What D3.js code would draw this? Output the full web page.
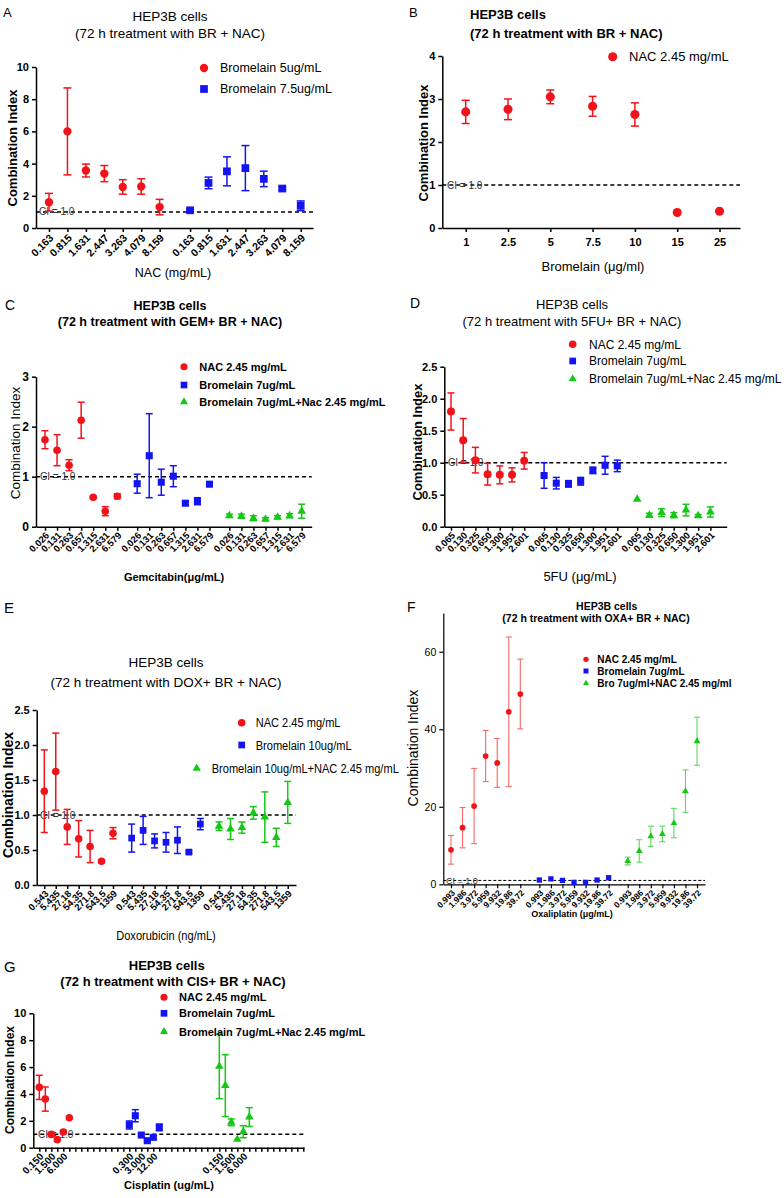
<!DOCTYPE html>
<html><head><meta charset="utf-8">
<script src="https://cdn.jsdelivr.net/npm/d3@7"></script>
<style>
body{margin:0;background:#fff;}
svg{display:block;}
</style></head><body>
<svg id="chart" width="784" height="1198"></svg>
<script>
// ---------------- DATA ----------------
// Panel A
const aLabels = ["0.163","0.815","1.631","2.447","3.263","4.079","8.159"];
const aSeriesNames = ["Bromelain 5ug/mL","Bromelain 7.5ug/mL"];
const aBromelain5 = [1.6, 6.0, 3.57, 3.38, 2.55, 2.58, 1.3];
const aBromelain5Err = [0.55, 2.7, 0.4, 0.5, 0.45, 0.48, 0.48];
const aBromelain75 = [1.1, 2.8, 3.52, 3.72, 3.05, 2.45, 1.38];
const aBromelain75Err = [0.08, 0.36, 0.9, 1.4, 0.48, 0.1, 0.3];
const aYTicks = [0,2,4,6,8,10];
// Panel B
const bLabels = ["1","2.5","5","7.5","10","15","25"];
const bSeriesNames = ["NAC 2.45 mg/mL"];
const bNac = [2.7, 2.76, 3.05, 2.83, 2.64, 0.36, 0.39];
const bNacErr = [0.27, 0.24, 0.16, 0.23, 0.27, 0, 0];
const bYTicks = [0,1,2,3,4];
// Panel C
const cLabels = ["0.026","0.131","0.263","0.657","1.315","2.631","6.579"];
const cSeriesNames = ["NAC 2.45 mg/mL","Bromelain 7ug/mL","Bromelain 7ug/mL+Nac 2.45 mg/mL"];
const cNac = [1.74, 1.53, 1.23, 2.13, 0.59, 0.31, 0.61];
const cNacErr = [0.18, 0.31, 0.11, 0.36, 0.02, 0.09, 0.05];
const cBro = [0.86, 1.42, 0.89, 1.01, 0.47, 0.51, 0.85];
const cBroErr = [0.19, 0.84, 0.26, 0.21, 0.04, 0.07, 0.02];
const cBroNac = [0.22, 0.21, 0.17, 0.15, 0.19, 0.22, 0.31];
const cBroNacErr = [0.03, 0.04, 0.05, 0.03, 0.03, 0.04, 0.14];
const cYTicks = [0,1,2,3];
// Panel D
const dLabels = ["0.065","0.130","0.325","0.650","1.300","1.951","2.601"];
const dSeriesNames = ["NAC 2.45 mg/mL","Bromelain 7ug/mL","Bromelain 7ug/mL+Nac 2.45 mg/mL"];
const dNac = [1.80, 1.35, 1.04, 0.82, 0.81, 0.81, 1.03];
const dNacErr = [0.29, 0.34, 0.2, 0.17, 0.14, 0.11, 0.13];
const dBro = [0.80, 0.68, 0.67, 0.71, 0.88, 0.96, 0.95];
const dBroErr = [0.2, 0.09, 0.05, 0.06, 0.05, 0.14, 0.09];
const dBroNac = [0.43, 0.18, 0.22, 0.18, 0.26, 0.17, 0.23];
const dBroNacErr = [0, 0.03, 0.06, 0.04, 0.09, 0.02, 0.08];
const dYTicks = [0,0.5,1,1.5,2,2.5];
// Panel E
const eLabels = ["0.543","5.435","27.18","54.35","271.8","543.5","1359"];
const eSeriesNames = ["NAC 2.45 mg/mL","Bromelain 10ug/mL","Bromelain 10ug/mL+NAC 2.45 mg/mL"];
const eNac = [1.34, 1.62, 0.83, 0.66, 0.55, 0.34, 0.74];
const eNacErr = [0.59, 0.55, 0.25, 0.26, 0.23, 0.02, 0.08];
const eBro = [0.67, 0.78, 0.63, 0.61, 0.64, 0.47, 0.87];
const eBroErr = [0.2, 0.2, 0.1, 0.14, 0.19, 0.02, 0.08];
const eBroNac = [0.84, 0.80, 0.82, 1.03, 0.97, 0.68, 1.18];
const eBroNacErr = [0.06, 0.15, 0.08, 0.09, 0.36, 0.13, 0.3];
const eYTicks = [0,0.5,1,1.5,2,2.5];
// Panel F
const fLabels = ["0.993","1.986","3.972","5.959","9.932","19.86","39.72"];
const fSeriesNames = ["NAC 2.45 mg/mL","Bromelain 7ug/mL","Bro 7ug/ml+NAC 2.45 mg/ml"];
const fNac = [8.9, 14.6, 20.2, 33.1, 31.3, 44.5, 49.1];
const fNacErr = [3.7, 5.2, 9.7, 6.6, 6.3, 19.3, 9.0];
const fBro = [1.1, 1.4, 1.0, 0.5, 0.5, 1.1, 1.7];
const fBroErr = [0, 0, 0, 0, 0, 0, 0];
const fBroNac = [6.0, 8.6, 12.4, 13.0, 15.8, 24.0, 36.9];
const fBroNacErr = [1.0, 2.9, 2.6, 2.0, 3.8, 5.5, 6.2];
const fYTicks = [0,20,40,60];
// Panel G
const gNacLabels = ["0.150","","1.500","","6.000",""];
const gBroLabels = ["0.300","","3.000","","12.00",""];
const gComboLabels = ["0.150","","1.500","","6.000",""];
const gSeriesNames = ["NAC 2.45 mg/mL","Bromelain 7ug/mL","Bromelain 7ug/mL+Nac 2.45 mg/mL"];
const gNac = [4.49, 3.62, 0.99, 0.6, 1.17, 2.23];
const gNacErr = [0.9, 0.9, 0.15, 0, 0.12, 0];
const gBro = [1.69, 2.38, 0.94, 0.52, 0.77, 1.51];
const gBroErr = [0.3, 0.45, 0.1, 0.08, 0.1, 0.25];
const gBroNac = [6.05, 4.62, 1.89, 0.62, 1.19, 2.28];
const gBroNacErr = [2.4, 2.3, 0.25, 0, 0.45, 0.7];
const gYTicks = [0,2,4,6,8,10];

// ---------------- DRAWING ----------------
const FONT = '"Liberation Sans", Arial, sans-serif';
const RED = "#f0141a", BLUE = "#1414f0", GREEN = "#14c814";
const SYM = {circle: d3.symbolCircle, square: d3.symbolSquare, triangle: d3.symbolTriangle};
const svg = d3.select("#chart");

function txt(g, s) {
  const t = g.append("text")
    .attr("font-family", FONT)
    .attr("font-size", s.size)
    .attr("font-weight", s.weight || "normal")
    .attr("text-anchor", s.anchor || "middle")
    .attr("fill", s.fill || "#000")
    .text(s.t);
  if (s.rotate) {
    t.attr("transform", `translate(${s.x},${s.y}) rotate(-90)`).attr("dy", "0.35em");
  } else if (s.narrow) {
    t.attr("transform", `translate(${s.x},${s.y}) scale(0.82,1)`);
    if (s.dy) t.attr("dy", s.dy);
  } else {
    t.attr("x", s.x).attr("y", s.y);
    if (s.dy) t.attr("dy", s.dy);
  }
  return t;
}

function drawPanel(p) {
  const g = svg.append("g");
  txt(g, {t: p.letter[0], x: p.letter[1], y: p.letter[2], size: p.letter[3], anchor: "start"});
  p.titles.forEach(tt => txt(g, tt));

  const sMin = (p.x0 - p.firstX) / p.step, sMax = (p.x1 - p.firstX) / p.step;
  const x = d3.scaleLinear().domain([sMin, sMax]).range([p.x0, p.x1]);
  const y = d3.scaleLinear().domain(p.yDomain).range([p.yBottom, p.yTop]);

  const labelMap = new Map();
  const ticks = [];
  p.labelGroups.forEach((labs, gi) => labs.forEach((l, i) => {
    const s = gi * p.groupOffset + i;
    ticks.push(s); labelMap.set(s, l);
  }));
  const tickVals = p.allTicks || ticks;

  // CI dashed line
  g.append("line").attr("x1", p.x0).attr("x2", p.x1)
    .attr("y1", y(1)).attr("y2", y(1))
    .attr("stroke", "#000").attr("stroke-width", p.dashW || 1.5)
    .attr("stroke-dasharray", p.dash || "4,3");
  txt(g, {t: "CI = 1.0", x: p.ciX, y: y(1), size: p.ciSize || 10, anchor: "start", dy: "0.35em", fill: "#333"});

  // axes
  const xAxis = d3.axisBottom(x).tickValues(tickVals)
    .tickFormat(s => labelMap.has(s) ? labelMap.get(s) : "")
    .tickSize(4).tickSizeOuter(0).tickPadding(p.xPad || 3);
  const gx = g.append("g").attr("transform", `translate(0,${p.yBottom})`).call(xAxis)
    .attr("font-family", null).attr("font-size", null);
  gx.select(".domain").attr("stroke-width", p.axisW);
  gx.selectAll(".tick line").attr("stroke-width", p.axisW);
  const xt = gx.selectAll(".tick text")
    .attr("font-family", FONT)
    .attr("font-size", p.xTickSize).attr("font-weight", p.xTickWeight || "bold").attr("fill", "#000");
  if (p.rotate) {
    xt.attr("x", 0).attr("y", 0).attr("dy", "0.35em")
      .attr("transform", `translate(${p.rotDx},${p.rotDy}) rotate(-45)`)
      .attr("text-anchor", "end");
  }

  const yAxis = d3.axisLeft(y).tickValues(p.yTicks).tickFormat(p.yFmt)
    .tickSize(4).tickSizeOuter(0).tickPadding(3);
  const gy = g.append("g").attr("transform", `translate(${p.x0},0)`).call(yAxis)
    .attr("font-family", null).attr("font-size", null);
  gy.select(".domain").attr("stroke-width", p.axisW);
  gy.selectAll(".tick line").attr("stroke-width", p.axisW);
  gy.selectAll(".tick text").attr("font-family", FONT)
    .attr("font-size", p.yTickSize).attr("font-weight", p.yTickWeight || "bold").attr("fill", "#000");

  txt(g, p.xTitle);
  txt(g, Object.assign({rotate: true}, p.yTitle));

  // series
  p.series.forEach(s => {
    const pts = s.values.map((v, i) => ({slot: s.group * p.groupOffset + i, v: v, e: s.errs[i]}));
    const sg = g.append("g");
    const ec = s.errColor || s.color;
    pts.filter(d => d.e > 0).forEach(d => {
      const cx = x(d.slot);
      sg.append("line").attr("x1", cx).attr("x2", cx)
        .attr("y1", y(d.v - d.e)).attr("y2", y(d.v + d.e))
        .attr("stroke", ec).attr("stroke-width", p.errW);
      [d.v - d.e, d.v + d.e].forEach(vv => {
        sg.append("line").attr("x1", cx - p.cap / 2).attr("x2", cx + p.cap / 2)
          .attr("y1", y(vv)).attr("y2", y(vv))
          .attr("stroke", ec).attr("stroke-width", p.errW);
      });
    });
    sg.selectAll("path.pt").data(pts).join("path").attr("class", "pt")
      .attr("transform", d => `translate(${x(d.slot)},${y(d.v)})`)
      .attr("d", d3.symbol().type(SYM[s.shape]).size(s.size))
      .attr("fill", s.color);
  });

  // legend
  p.legend.forEach(it => {
    g.append("path").attr("transform", `translate(${it.sx},${it.sy})`)
      .attr("d", d3.symbol().type(SYM[it.shape]).size(it.size)).attr("fill", it.color);
    txt(g, {t: it.label, x: it.tx, y: it.sy, size: p.legendSize, weight: p.legendWeight || "normal",
      anchor: "start", dy: "0.35em", narrow: p.legendNarrow});
  });
}

// Panel A
drawPanel({
  letter: ["A", 3, 17, 13],
  titles: [
    {t: "HEP3B cells", x: 170, y: 21, size: 13.5},
    {t: "(72 h treatment with BR + NAC)", x: 170, y: 38, size: 13.5}],
  x0: 36, x1: 313, firstX: 49, step: 18.44, groupOffset: 7.65,
  yDomain: [0, 10], yBottom: 228, yTop: 67, yTicks: aYTicks, yFmt: d3.format("d"),
  yTickSize: 11, labelGroups: [aLabels, aLabels],
  xTickSize: 10.5, rotate: true, rotDx: 2, rotDy: 8,
  xTitle: {t: "NAC (mg/mL)", x: 173, y: 277, size: 12.5},
  yTitle: {t: "Combination Index", x: 12, y: 148, size: 13, weight: "bold"},
  legendSize: 12.5,
  legend: [
    {shape: "circle", color: RED, size: 55, label: aSeriesNames[0], sx: 204, sy: 68, tx: 220},
    {shape: "square", color: BLUE, size: 60, label: aSeriesNames[1], sx: 204, sy: 89, tx: 220}],
  ciX: 39, cap: 8, errW: 1.5, axisW: 1.5,
  series: [
    {group: 0, values: aBromelain5, errs: aBromelain5Err, color: RED, shape: "circle", size: 55},
    {group: 1, values: aBromelain75, errs: aBromelain75Err, color: BLUE, shape: "square", size: 60}]
});

// Panel B
drawPanel({
  letter: ["B", 409, 17, 13],
  titles: [
    {t: "HEP3B cells", x: 470, y: 18.5, size: 13, weight: "bold", anchor: "start"},
    {t: "(72 h treatment with BR + NAC)", x: 470, y: 37.5, size: 13, weight: "bold", anchor: "start"}],
  x0: 442.3, x1: 740, firstX: 465.7, step: 42.3, groupOffset: 7,
  yDomain: [0, 4], yBottom: 228, yTop: 56, yTicks: bYTicks, yFmt: d3.format("d"),
  yTickSize: 11, labelGroups: [bLabels],
  xTickSize: 11, rotate: false, xPad: 6,
  xTitle: {t: "Bromelain (μg/ml)", x: 593, y: 271, size: 13},
  yTitle: {t: "Combination Index", x: 423, y: 143, size: 13, weight: "bold"},
  legendSize: 13,
  legend: [
    {shape: "circle", color: RED, size: 65, label: bSeriesNames[0], sx: 612.7, sy: 56.7, tx: 629}],
  ciX: 447, cap: 8, errW: 1.5, axisW: 1.5,
  series: [
    {group: 0, values: bNac, errs: bNacErr, color: RED, shape: "circle", size: 65}]
});

// Panel C
drawPanel({
  letter: ["C", 5, 310, 14],
  titles: [
    {t: "HEP3B cells", x: 170, y: 309.5, size: 12.5, weight: "bold"},
    {t: "(72 h treatment with GEM+ BR + NAC)", x: 170, y: 325.5, size: 12.5, weight: "bold"}],
  x0: 36, x1: 311.7, firstX: 45, step: 12.05, groupOffset: 7.65,
  yDomain: [0, 3], yBottom: 526.7, yTop: 376.7, yTicks: cYTicks, yFmt: d3.format("d"),
  yTickSize: 12, labelGroups: [cLabels, cLabels, cLabels],
  xTickSize: 9.5, rotate: true, rotDx: 2, rotDy: 7,
  xTitle: {t: "Gemcitabin(μg/mL)", x: 174, y: 581, size: 11, weight: "bold"},
  yTitle: {t: "Combination Index", x: 15, y: 443, size: 13.5},
  legendSize: 11, legendWeight: "bold",
  legend: [
    {shape: "circle", color: RED, size: 40, label: cSeriesNames[0], sx: 184, sy: 366.7, tx: 199.3},
    {shape: "square", color: BLUE, size: 45, label: cSeriesNames[1], sx: 184, sy: 385, tx: 199.3},
    {shape: "triangle", color: GREEN, size: 28, label: cSeriesNames[2], sx: 184, sy: 402, tx: 199.3}],
  ciX: 40, cap: 7, errW: 1.5, axisW: 1.5,
  series: [
    {group: 0, values: cNac, errs: cNacErr, color: RED, shape: "circle", size: 45},
    {group: 1, values: cBro, errs: cBroErr, color: BLUE, shape: "square", size: 50},
    {group: 2, values: cBroNac, errs: cBroNacErr, color: GREEN, shape: "triangle", size: 32}]
});

// Panel D
drawPanel({
  letter: ["D", 410, 308, 14],
  titles: [
    {t: "HEP3B cells", x: 572, y: 308.5, size: 13},
    {t: "(72 h treatment with 5FU+ BR + NAC)", x: 572, y: 326, size: 13}],
  x0: 444.3, x1: 726.7, firstX: 451, step: 12.2, groupOffset: 7.63,
  yDomain: [0, 2.5], yBottom: 526.7, yTop: 366.7, yTicks: dYTicks, yFmt: d3.format(".1f"),
  yTickSize: 11, labelGroups: [dLabels, dLabels, dLabels],
  xTickSize: 9.5, rotate: true, rotDx: 2, rotDy: 7,
  xTitle: {t: "5FU (μg/mL)", x: 580, y: 581, size: 13},
  yTitle: {t: "Combination Index", x: 417, y: 442, size: 13, weight: "bold"},
  legendSize: 12,
  legend: [
    {shape: "circle", color: RED, size: 45, label: dSeriesNames[0], sx: 572.7, sy: 344.3, tx: 589},
    {shape: "square", color: BLUE, size: 45, label: dSeriesNames[1], sx: 572.7, sy: 361, tx: 589},
    {shape: "triangle", color: GREEN, size: 28, label: dSeriesNames[2], sx: 572.7, sy: 379, tx: 589}],
  ciX: 448, cap: 7, errW: 1.5, axisW: 1.5,
  series: [
    {group: 0, values: dNac, errs: dNacErr, color: RED, shape: "circle", size: 50},
    {group: 1, values: dBro, errs: dBroErr, color: BLUE, shape: "square", size: 50},
    {group: 2, values: dBroNac, errs: dBroNacErr, color: GREEN, shape: "triangle", size: 32}]
});

// Panel E
drawPanel({
  letter: ["E", 4, 613, 15],
  titles: [
    {t: "HEP3B cells", x: 166, y: 667, size: 13.5, narrow: false},
    {t: "(72 h treatment with DOX+ BR + NAC)", x: 166, y: 687, size: 13.5}],
  x0: 36.7, x1: 296, firstX: 44.3, step: 11.45, groupOffset: 7.63,
  yDomain: [0, 2.5], yBottom: 885, yTop: 710, yTicks: eYTicks, yFmt: d3.format(".1f"),
  yTickSize: 11, labelGroups: [eLabels, eLabels, eLabels],
  xTickSize: 9.5, rotate: true, rotDx: 2, rotDy: 7,
  xTitle: {t: "Doxorubicin (ng/mL)", x: 166, y: 940, size: 13.5, narrow: true, anchor: "middle"},
  yTitle: {t: "Combination Index", x: 8, y: 795, size: 14, weight: "bold"},
  legendSize: 13.5, legendNarrow: true,
  legend: [
    {shape: "circle", color: RED, size: 45, label: eSeriesNames[0], sx: 241.7, sy: 722.7, tx: 255.7},
    {shape: "square", color: BLUE, size: 45, label: eSeriesNames[1], sx: 241.7, sy: 745, tx: 255.7},
    {shape: "triangle", color: GREEN, size: 30, label: eSeriesNames[2], sx: 196.7, sy: 768.3, tx: 211.7}],
  ciX: 40, cap: 7, errW: 1.5, axisW: 1.5,
  series: [
    {group: 0, values: eNac, errs: eNacErr, color: RED, shape: "circle", size: 45},
    {group: 1, values: eBro, errs: eBroErr, color: BLUE, shape: "square", size: 45},
    {group: 2, values: eBroNac, errs: eBroNacErr, color: GREEN, shape: "triangle", size: 32}]
});

// Panel F
drawPanel({
  letter: ["F", 407, 612, 14],
  titles: [
    {t: "HEP3B cells", x: 606.7, y: 609.5, size: 10.5, weight: "bold"},
    {t: "(72 h treatment with OXA+ BR + NAC)", x: 596, y: 622, size: 10.5, weight: "bold"}],
  x0: 443.3, x1: 705, firstX: 451, step: 11.55, groupOffset: 7.65,
  yDomain: [0, 70], yBottom: 884.3, yTop: 613, yTicks: fYTicks, yFmt: d3.format("d"),
  yTickSize: 10.5, yTickWeight: "normal", labelGroups: [fLabels, fLabels, fLabels],
  xTickSize: 8.5, rotate: true, rotDx: 2, rotDy: 7,
  xTitle: {t: "Oxaliplatin (μg/mL)", x: 572, y: 917, size: 9, weight: "bold"},
  yTitle: {t: "Combination Index", x: 412.7, y: 748, size: 14},
  legendSize: 10, legendWeight: "bold",
  legend: [
    {shape: "circle", color: RED, size: 22, label: fSeriesNames[0], sx: 586, sy: 659.3, tx: 597.3},
    {shape: "square", color: BLUE, size: 25, label: fSeriesNames[1], sx: 586, sy: 671, tx: 597.3},
    {shape: "triangle", color: GREEN, size: 16, label: fSeriesNames[2], sx: 586, sy: 683.3, tx: 597.3}],
  ciX: 446, ciSize: 9, cap: 6, errW: 1.1, axisW: 1.2, dash: "3,2", dashW: 1,
  series: [
    {group: 0, values: fNac, errs: fNacErr, color: RED, errColor: "#f46a6a", shape: "circle", size: 26},
    {group: 1, values: fBro, errs: fBroErr, color: BLUE, shape: "square", size: 28},
    {group: 2, values: fBroNac, errs: fBroNacErr, color: GREEN, errColor: "#5fd85f", shape: "triangle", size: 20}]
});

// Panel G
drawPanel({
  letter: ["G", 4, 972, 15],
  titles: [
    {t: "HEP3B cells", x: 166.7, y: 970, size: 13, weight: "bold"},
    {t: "(72 h treatment with CIS+ BR + NAC)", x: 173, y: 985.5, size: 13, weight: "bold"}],
  x0: 33.3, x1: 304, firstX: 39.3, step: 6.0, groupOffset: 15, allTicks: d3.range(0, 45),
  yDomain: [0, 10], yBottom: 1147.7, yTop: 1013.3, yTicks: gYTicks, yFmt: d3.format("d"),
  yTickSize: 11, labelGroups: [gNacLabels, gBroLabels, gComboLabels],
  xTickSize: 10, rotate: true, rotDx: 2, rotDy: 7,
  xTitle: {t: "Cisplatin (ug/mL)", x: 169, y: 1189, size: 11, weight: "bold"},
  yTitle: {t: "Combination Index", x: 10, y: 1080, size: 12, weight: "bold"},
  legendSize: 11, legendWeight: "bold",
  legend: [
    {shape: "circle", color: RED, size: 40, label: gSeriesNames[0], sx: 164, sy: 997.3, tx: 179},
    {shape: "square", color: BLUE, size: 45, label: gSeriesNames[1], sx: 164, sy: 1013.3, tx: 179},
    {shape: "triangle", color: GREEN, size: 28, label: gSeriesNames[2], sx: 164, sy: 1031.7, tx: 179}],
  ciX: 38, cap: 7, errW: 1.5, axisW: 1.5,
  series: [
    {group: 0, values: gNac, errs: gNacErr, color: RED, shape: "circle", size: 45},
    {group: 1, values: gBro, errs: gBroErr, color: BLUE, shape: "square", size: 50},
    {group: 2, values: gBroNac, errs: gBroNacErr, color: GREEN, shape: "triangle", size: 32}]
});
</script>
</body></html>
